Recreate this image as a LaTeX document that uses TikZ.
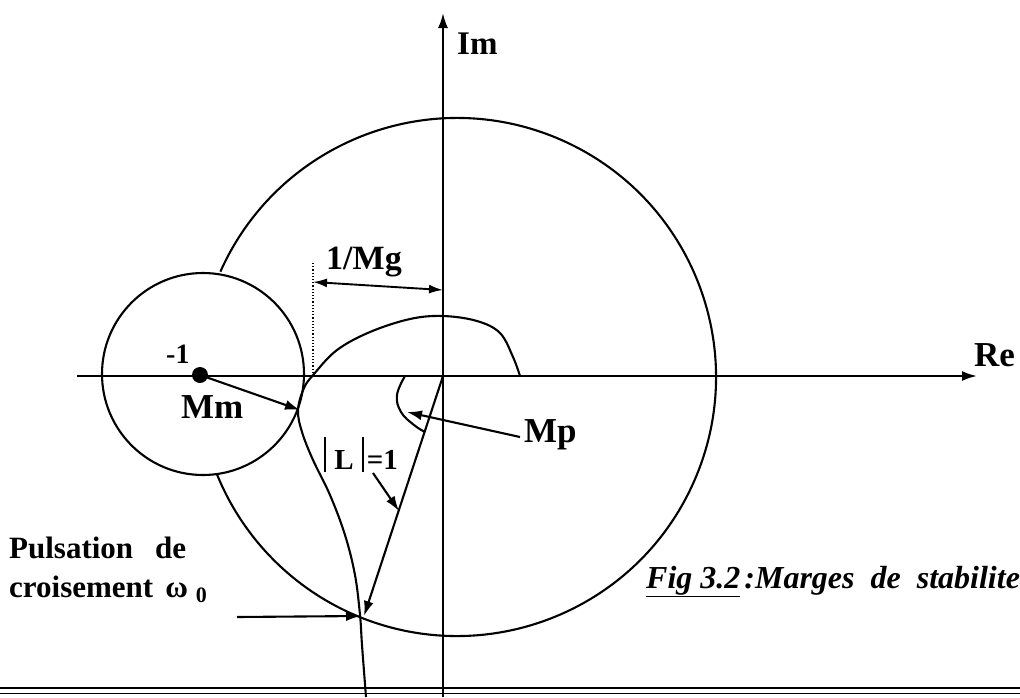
\documentclass[tikz,border=0pt]{standalone}
\usepackage{fontspec}
\setmainfont{Liberation Serif}
\usetikzlibrary{arrows.meta}
\begin{document}
\begin{tikzpicture}[x=1pt,y=1pt,
  thick line/.style={line width=2.1pt},
  arr/.style={line width=2.1pt,-{Latex[length=15pt,width=10pt]}},
  lbl/.style={inner sep=0pt,anchor=base west},
  fs/.style={font=\fontsize{#1}{#1}\selectfont\bfseries}]
\useasboundingbox (0,0) rectangle (1020,-697);
% key coordinates
\coordinate (O) at (443,-376);
\coordinate (reL) at (77,-376);
\coordinate (reR) at (977,-376);
\coordinate (imT) at (443,-13);
\coordinate (imB) at (443,-697);
\coordinate (bigC) at (457,-377);
\coordinate (smallC) at (203,-374);
\coordinate (mmTip) at (300,-410);
\coordinate (mpS) at (520,-437);
\coordinate (mpTip) at (407,-412);
\coordinate (cross) at (364,-616);
\coordinate (pulsS) at (237,-617);
\coordinate (pulsT) at (361,-616);
\coordinate (lS) at (373,-473);
\coordinate (lT) at (399,-511);
\coordinate (mgL) at (313,-282);
\coordinate (mgR) at (443,-290);
\coordinate (dotT) at (313,-263);
\coordinate (dotB) at (313,-376);
\coordinate (bl1) at (0,-688);
\coordinate (br1) at (1020,-688);
\coordinate (bl2) at (0,-693.5);
\coordinate (br2) at (1020,-693.5);
% bottom rule
\draw[line width=2.8pt] (bl1) -- (br1);
\draw[line width=1.1pt] (bl2) -- (br2);
% axes
\draw[arr] (reL) -- (reR);
\draw[arr] (imB) -- (imT);
% circles
\draw[thick line] (smallC) circle[radius=101];
\draw[thick line] (bigC) ++(156:259) arc[start angle=156,end angle=-158,radius=259];
% Nyquist curve
\draw[thick line] plot[smooth,tension=0.6] coordinates {
 (366,-697) (362,-645) (360,-615) (355,-575) (345,-535) (330,-495) (313,-460)
 (302,-432) (298,-410) (304,-388) (314,-374) (337,-350) (370,-332) (410,-319)
 (443,-316) (477,-321) (500,-333) (513,-357) (520,-376)};
\draw[thick line] plot[smooth,tension=0.7] coordinates {
 (405,-376) (397,-395) (401,-412) (414,-425) (425,-432)};
% point -1
\node[circle,fill,minimum size=16pt,inner sep=0pt] (m1) at (200,-375) {};
% arrows
\draw[arr] (m1.center) -- (mmTip);
\draw[arr] (mpS) -- (mpTip);
\draw[arr] (O) -- (cross);
\draw[arr] (pulsS) -- (pulsT);
\draw[arr] (lS) -- (lT);
\draw[line width=1.9pt,{Latex[length=14pt,width=9pt]}-{Latex[length=14pt,width=9pt]}] (mgL) -- (mgR);
\draw[line width=1.2pt,dotted] (dotT) -- (dotB);
% labels
\node[lbl,fs=33] (im) at (457,-54) {Im};
\node[lbl,fs=35] (re) at (974,-366) {Re};
\node[lbl,fs=34] (mg) at (326,-269) {1/Mg};
\node[lbl,fs=28] (minus1) at (166,-363) {-1};
\node[lbl,fs=35] (mm) at (181,-418) {Mm};
\node[lbl,fs=35] (mp) at (524,-442) {Mp};
\node[lbl,fs=29] (lab) at (324,-469) {\rule[-3pt]{2.2pt}{35pt}\hspace{8pt}L\hspace{8pt}\rule[-3pt]{2.2pt}{35pt}\hspace{3pt}=1};
\node[lbl,fs=31] (puls1) at (9,-558) {Pulsation\hspace{22pt}de};
\node[lbl,fs=31] (puls2) at (9,-597) {croisement\hspace{12pt}ω\hspace{8pt}\raisebox{-5pt}{\fontsize{22}{22}\selectfont 0}};
\node[lbl,font=\fontsize{32}{32}\selectfont\bfseries\itshape] (cap) at (646,-588)
  {\underline{Fig 3.2}\hspace{4pt}:Marges\hspace{16pt}de\hspace{16pt}stabilite};
\end{tikzpicture}
\end{document}
